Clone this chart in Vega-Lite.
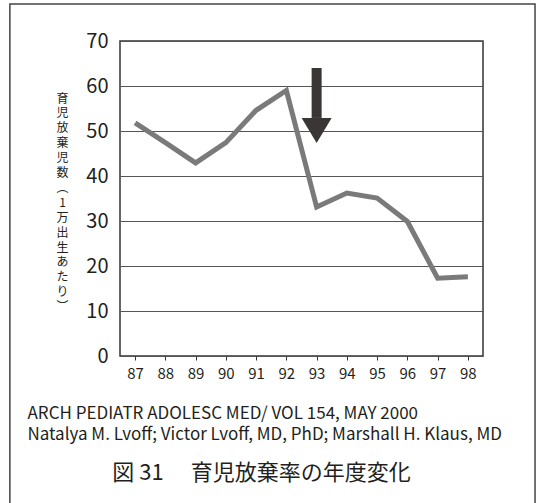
{
  "$schema": "https://vega.github.io/schema/vega-lite/v6.json",
  "width": 363,
  "height": 315,
  "autosize": {"type": "none"},
  "padding": {"left": 120, "top": 41, "right": 53, "bottom": 147},
  "background": "white",
  "datasets": {
    "rates": [
      {"year": 87, "rate": 51.8},
      {"year": 88, "rate": 47.4},
      {"year": 89, "rate": 42.9},
      {"year": 90, "rate": 47.4},
      {"year": 91, "rate": 54.6},
      {"year": 92, "rate": 59.0},
      {"year": 93, "rate": 33.1},
      {"year": 94, "rate": 36.2},
      {"year": 95, "rate": 35.1},
      {"year": 96, "rate": 29.9},
      {"year": 97, "rate": 17.3},
      {"year": 98, "rate": 17.6}
    ],
    "arrow": [
      {"year": 93, "top": 64, "base": 52.9}
    ]
  },
  "title": {
    "text": "図 31　 育児放棄率の年度変化",
    "orient": "bottom",
    "anchor": "middle",
    "frame": "group",
    "dx": -40,
    "offset": -45,
    "fontSize": 22,
    "fontWeight": "normal",
    "font": "Noto Sans CJK JP",
    "color": "#231f20"
  },
  "layer": [
    {
      "data": {"name": "rates"},
      "mark": {"type": "line", "color": "#7a7a7a", "strokeWidth": 5, "strokeJoin": "miter"},
      "encoding": {
        "x": {
          "field": "year",
          "type": "quantitative",
          "scale": {"domain": [86.5, 98.5], "zero": false, "nice": false},
          "axis": {
            "values": [87, 88, 89, 90, 91, 92, 93, 94, 95, 96, 97, 98],
            "tickCount": 12,
            "format": "d",
            "grid": false,
            "domain": false,
            "ticks": true,
            "tickSize": 4,
            "tickColor": "#333333",
            "tickWidth": 1,
            "labelOverlap": false,
            "labelSeparation": 0,
            "labelFontSize": 15,
            "labelPadding": 6,
            "labelColor": "#231f20",
            "labelFont": "Noto Sans CJK JP",
            "title": ["ARCH PEDIATR ADOLESC MED/ VOL 154, MAY 2000", "Natalya M. Lvoff; Victor Lvoff, MD, PhD; Marshall H. Klaus, MD"],
            "titleFont": "Noto Sans CJK JP",
            "titleFontSize": 17,
            "titleFontWeight": "normal",
            "titleColor": "#231f20",
            "titleAlign": "left",
            "titleAnchor": "start",
            "titleBaseline": "alphabetic",
            "titleX": -93,
            "titleY": 62,
            "titleLineHeight": 21
          }
        },
        "y": {
          "field": "rate",
          "type": "quantitative",
          "scale": {"domain": [0, 70], "nice": false},
          "axis": {
            "values": [0, 10, 20, 30, 40, 50, 60, 70],
            "grid": true,
            "gridColor": "#555555",
            "gridWidth": 1.2,
            "domain": false,
            "ticks": false,
            "labelFontSize": 20,
            "labelPadding": 12,
            "labelColor": "#231f20",
            "labelFont": "Noto Sans CJK JP",
            "title": ["育", "児", "放", "棄", "児", "数", "︵", "1", "万", "出", "生", "あ", "た", "り", "︶"],
            "titleFont": "Noto Sans CJK JP",
            "titleFontSize": 12,
            "titleFontWeight": "normal",
            "titleColor": "#231f20",
            "titleAngle": 0,
            "titleAlign": "center",
            "titleBaseline": "top",
            "titleX": -58,
            "titleY": 52,
            "titleLineHeight": 14.9
          }
        }
      }
    },
    {
      "data": {"values": [{}]},
      "mark": {"type": "rect", "filled": false, "color": "#444444", "strokeWidth": 1.5, "clip": false},
      "encoding": {
        "x": {"datum": 82.86, "type": "quantitative"},
        "x2": {"datum": 100.22},
        "y": {"datum": 78.2, "type": "quantitative"},
        "y2": {"datum": -33.5}
      }
    },
    {
      "data": {"name": "arrow"},
      "mark": {"type": "rule", "color": "#3a3636", "strokeWidth": 10},
      "encoding": {
        "x": {"field": "year", "type": "quantitative"},
        "y": {"field": "top", "type": "quantitative"},
        "y2": {"field": "base"}
      }
    },
    {
      "data": {"name": "arrow"},
      "mark": {"type": "point", "shape": "M-1,0L1,0L0,1.67Z", "size": 900, "filled": true, "color": "#3a3636", "opacity": 1, "strokeWidth": 0},
      "encoding": {
        "x": {"field": "year", "type": "quantitative"},
        "y": {"field": "base", "type": "quantitative"}
      }
    }
  ],
  "config": {
    "view": {"stroke": "#333333", "strokeWidth": 1.5},
    "font": "Noto Sans CJK JP",
    "axisX": {"labelOverlap": false}
  }
}
